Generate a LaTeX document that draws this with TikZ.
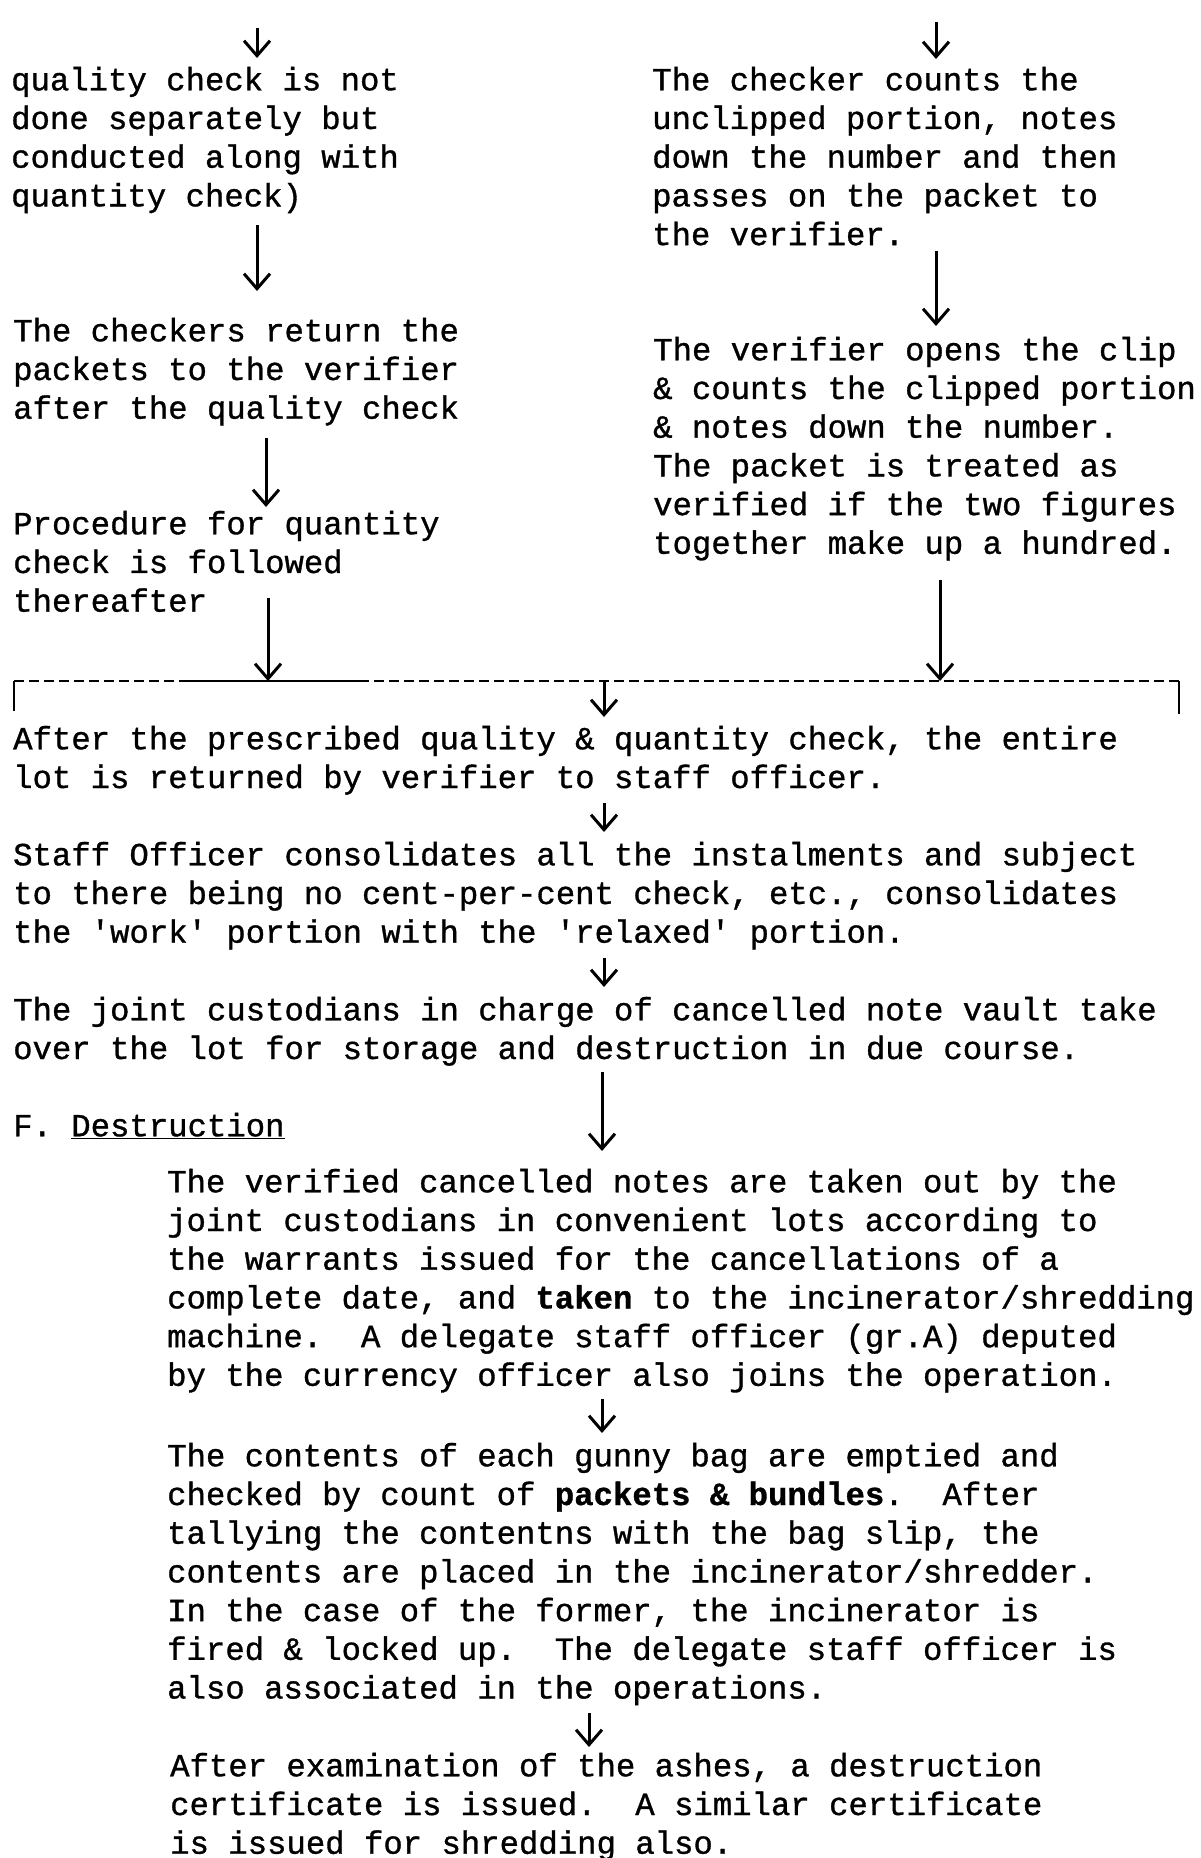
\documentclass[tikz,border=0pt]{standalone}
\usepackage{fontspec}
\setmonofont{Liberation Mono}[FakeBold=1]
\usetikzlibrary{arrows.meta}
\tikzset{
  txt/.style={anchor=north west, inner sep=0pt, align=left,
    font=\ttfamily\fontsize{32.3}{38.7}\selectfont\frenchspacing},
  arr/.style={line width=3pt, -{Straight Barb[length=15pt,width=26pt]}},
  brk/.style={line width=2.6pt},
}
\begin{document}
\begin{tikzpicture}[x=1pt,y=1pt]
\useasboundingbox (0,0) rectangle (1200,-1858);
\fill[white] (0,0) rectangle (1200,-1858);
% left column
\node[txt] (l1) at (11,-63) {\strut quality check is not\\done separately but\\conducted along with\\quantity check)};
\node[txt] (l2) at (13,-314) {\strut The checkers return the\\packets to the verifier\\after the quality check};
\node[txt] (l3) at (13,-507) {\strut Procedure for quantity\\check is followed\\thereafter};
% right column
\node[txt] (r1) at (652,-63) {\strut The checker counts the\\unclipped portion, notes\\down the number and then\\passes on the packet to\\the verifier.};
\node[txt] (r2) at (653,-333) {\strut The verifier opens the clip\\\& counts the clipped portion\\\& notes down the number.\\The packet is treated as\\verified if the two figures\\together make up a hundred.};
% full width
\node[txt] (m1) at (13,-722) {\strut After the prescribed quality \& quantity check, the entire\\lot is returned by verifier to staff officer.};
\node[txt] (m2) at (13,-838) {\strut Staff Officer consolidates all the instalments and subject\\to there being no cent-per-cent check, etc., consolidates\\the 'work' portion with the 'relaxed' portion.};
\node[txt] (m3) at (13,-993) {\strut The joint custodians in charge of cancelled note vault take\\over the lot for storage and destruction in due course.};
\node[txt] (f) at (13,-1109) {\strut F. \underline{Destruction}};
\node[txt] (d1) at (167,-1165) {\strut The verified cancelled notes are taken out by the\\joint custodians in convenient lots according to\\the warrants issued for the cancellations of a\\complete date, and \textbf{taken} to the incinerator/shredding\\machine.\ \ A delegate staff officer (gr.A) deputed\\by the currency officer also joins the operation.};
\node[txt] (d2) at (167,-1439) {\strut The contents of each gunny bag are emptied and\\checked by count of \textbf{packets \& bundles}.\ \ After\\tallying the contentns with the bag slip, the\\contents are placed in the incinerator/shredder.\\In the case of the former, the incinerator is\\fired \& locked up.\ \ The delegate staff officer is\\also associated in the operations.};
\node[txt] (d3) at (170,-1749) {\strut After examination of the ashes, a destruction\\certificate is issued.\ \ A similar certificate\\is issued for shredding also.};
% arrow end points
\coordinate (a1s) at (257,-28);  \coordinate (a1e) at (257,-58);
\coordinate (a2s) at (257,-225); \coordinate (a2e) at (257,-291);
\coordinate (a3s) at (266,-438); \coordinate (a3e) at (266,-507);
\coordinate (a4s) at (268,-598); \coordinate (a4e) at (268,-681);
\coordinate (b1s) at (936,-22);  \coordinate (b1e) at (936,-59);
\coordinate (b2s) at (936,-251); \coordinate (b2e) at (936,-326);
\coordinate (b3s) at (940,-580); \coordinate (b3e) at (940,-681);
\coordinate (c1s) at (604,-681); \coordinate (c1e) at (604,-717);
\coordinate (c2s) at (604,-803); \coordinate (c2e) at (604,-832);
\coordinate (c3s) at (604,-958); \coordinate (c3e) at (604,-987);
\coordinate (c4s) at (602,-1072); \coordinate (c4e) at (602,-1151);
\coordinate (c5s) at (602,-1399); \coordinate (c5e) at (602,-1433);
\coordinate (c6s) at (589,-1713); \coordinate (c6e) at (589,-1747);
% bracket
\coordinate (kl) at (14,-681); \coordinate (kr) at (1179,-681);
\coordinate (kld) at (14,-711); \coordinate (krd) at (1179,-714);
\coordinate (ks1) at (186,-681); \coordinate (ks2) at (362,-681);
\draw[brk, dash pattern=on 10pt off 5pt] (kl) -- (kr);
\draw[brk] (ks1) -- (ks2);
\draw[brk] (kld) -- (kl);
\draw[brk] (krd) -- (kr);
% arrows
\foreach \a in {a1,a2,a3,a4,b1,b2,b3,c1,c2,c3,c4,c5,c6}
  \draw[arr] (\a s) -- (\a e);
\end{tikzpicture}
\end{document}
